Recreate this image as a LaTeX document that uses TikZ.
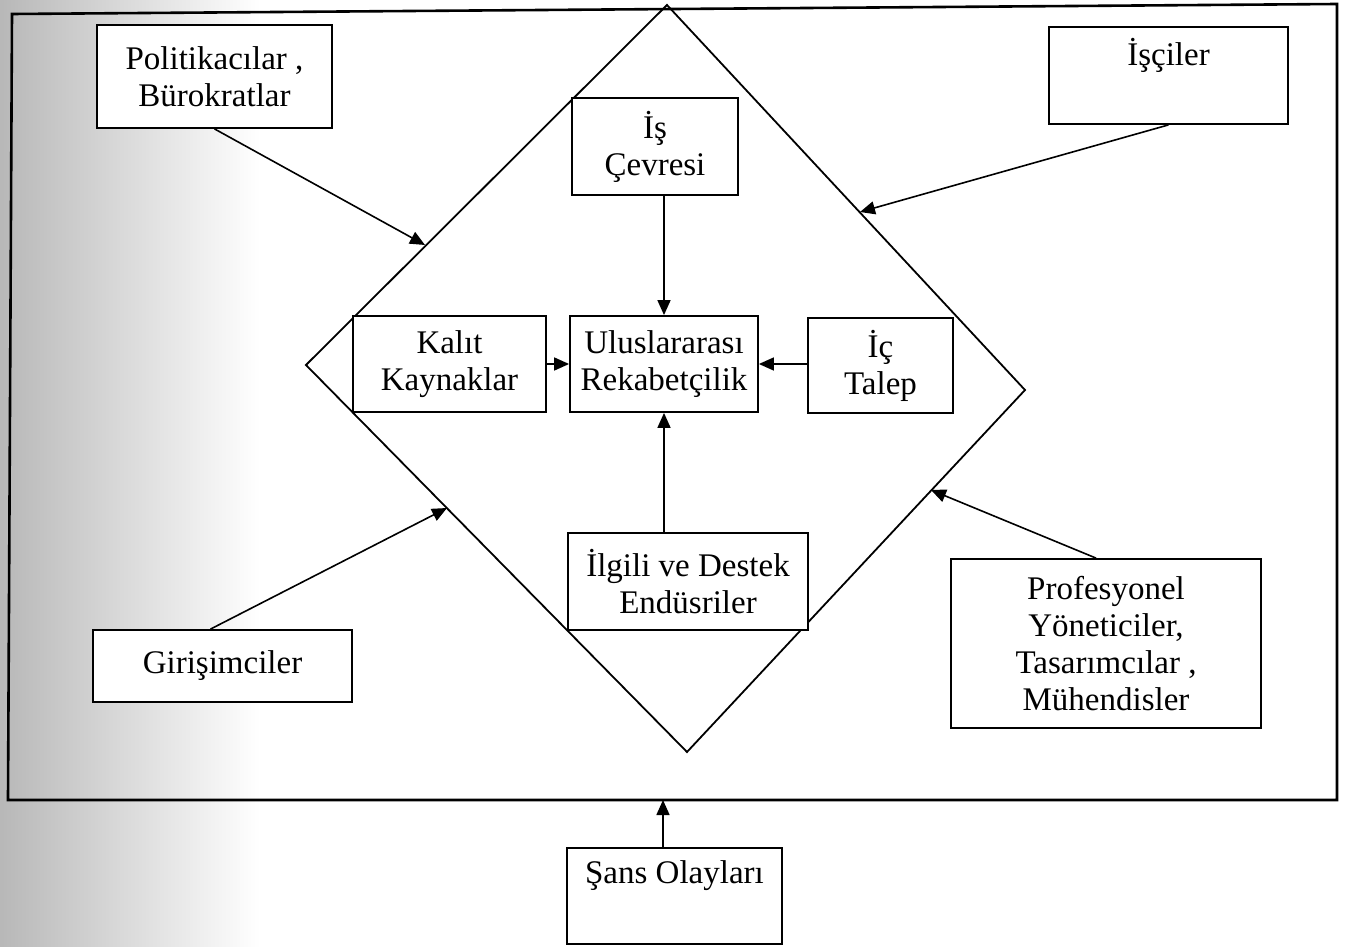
\documentclass[tikz,border=0pt]{standalone}
\usepackage{fontspec}
\setmainfont{Liberation Serif}
\usetikzlibrary{arrows.meta}

\begin{document}
\begin{tikzpicture}[x=0.5pt,y=-0.5pt,
  kutu/.style={draw, fill=white, line width=0.9pt, align=center, inner sep=0pt},
  ok/.style={-{Triangle[length=7.5pt,width=6.5pt]}, line width=0.8pt},
  font=\fontsize{16.5}{18.5}\selectfont]

\useasboundingbox (0,0) rectangle (1346,947);
\shade[left color=black!28, right color=white] (0,0) rectangle (260,947);

% frame and diamond
\draw[line width=1.3pt] (12,14) -- (1337,4) -- (1337,800) -- (8,800) -- cycle;

\coordinate (T) at (667,5);
\coordinate (R) at (1025,390);
\coordinate (B) at (687,752);
\coordinate (L) at (306,365);

\draw[line width=0.9pt] (T) -- (R) -- (B) -- (L) -- cycle;

% points where the outer arrows meet the diamond
\coordinate (u1) at (425,245);
\coordinate (u2) at (860,212);
\coordinate (u3) at (447,508);
\coordinate (u4) at (931,490);
\coordinate (u5) at (663,800);

% boxes
\node[kutu, minimum width=117.5pt, minimum height=51.5pt] (pol) at (214.5,76.5) {Politikacılar ,\\ Bürokratlar};
\node[kutu, minimum width=119.5pt, minimum height=48.5pt] (isci) at (1168.5,75.5) {İşçiler\\ \strut};
\node[kutu, minimum width=83pt, minimum height=48.5pt] (cevre) at (655,146.5) {İş\\ Çevresi};
\node[kutu, minimum width=96.5pt, minimum height=48pt] (kalit) at (449.5,364) {Kalıt\\ Kaynaklar};
\node[kutu, minimum width=94pt, minimum height=48pt] (ulus) at (664,364) {Uluslararası\\ Rekabetçilik};
\node[kutu, minimum width=72.5pt, minimum height=47.5pt] (talep) at (880.5,365.5) {İç\\ Talep};
\node[kutu, minimum width=120pt, minimum height=48.5pt] (ilgili) at (688,581.5) {İlgili ve Destek\\ Endüsriler};
\node[kutu, minimum width=129.5pt, minimum height=36pt] (gir) at (222.5,666) {Girişimciler};
\node[kutu, minimum width=155pt, minimum height=84.5pt] (prof) at (1106,643.5) {Profesyonel\\ Yöneticiler,\\ Tasarımcılar ,\\ Mühendisler};
\node[kutu, minimum width=107.5pt, minimum height=48pt] (sans) at (674.5,896) {Şans Olayları\\ \strut};

% arrows
\draw[ok] (cevre.south -| ulus) -- (ulus.north);
\draw[ok] (kalit.east) -- (ulus.west);
\draw[ok] (talep.west |- ulus) -- (ulus.east);
\draw[ok] (ilgili.north -| ulus) -- (ulus.south);

\draw[ok] (pol.south) -- (u1);
\draw[ok] (isci.south) -- (u2);
\draw[ok] ([xshift=-6pt]gir.north) -- (u3);
\draw[ok] ([xshift=-5pt]prof.north) -- (u4);
\draw[ok] (sans.north -| u5) -- (u5);

\end{tikzpicture}
\end{document}
